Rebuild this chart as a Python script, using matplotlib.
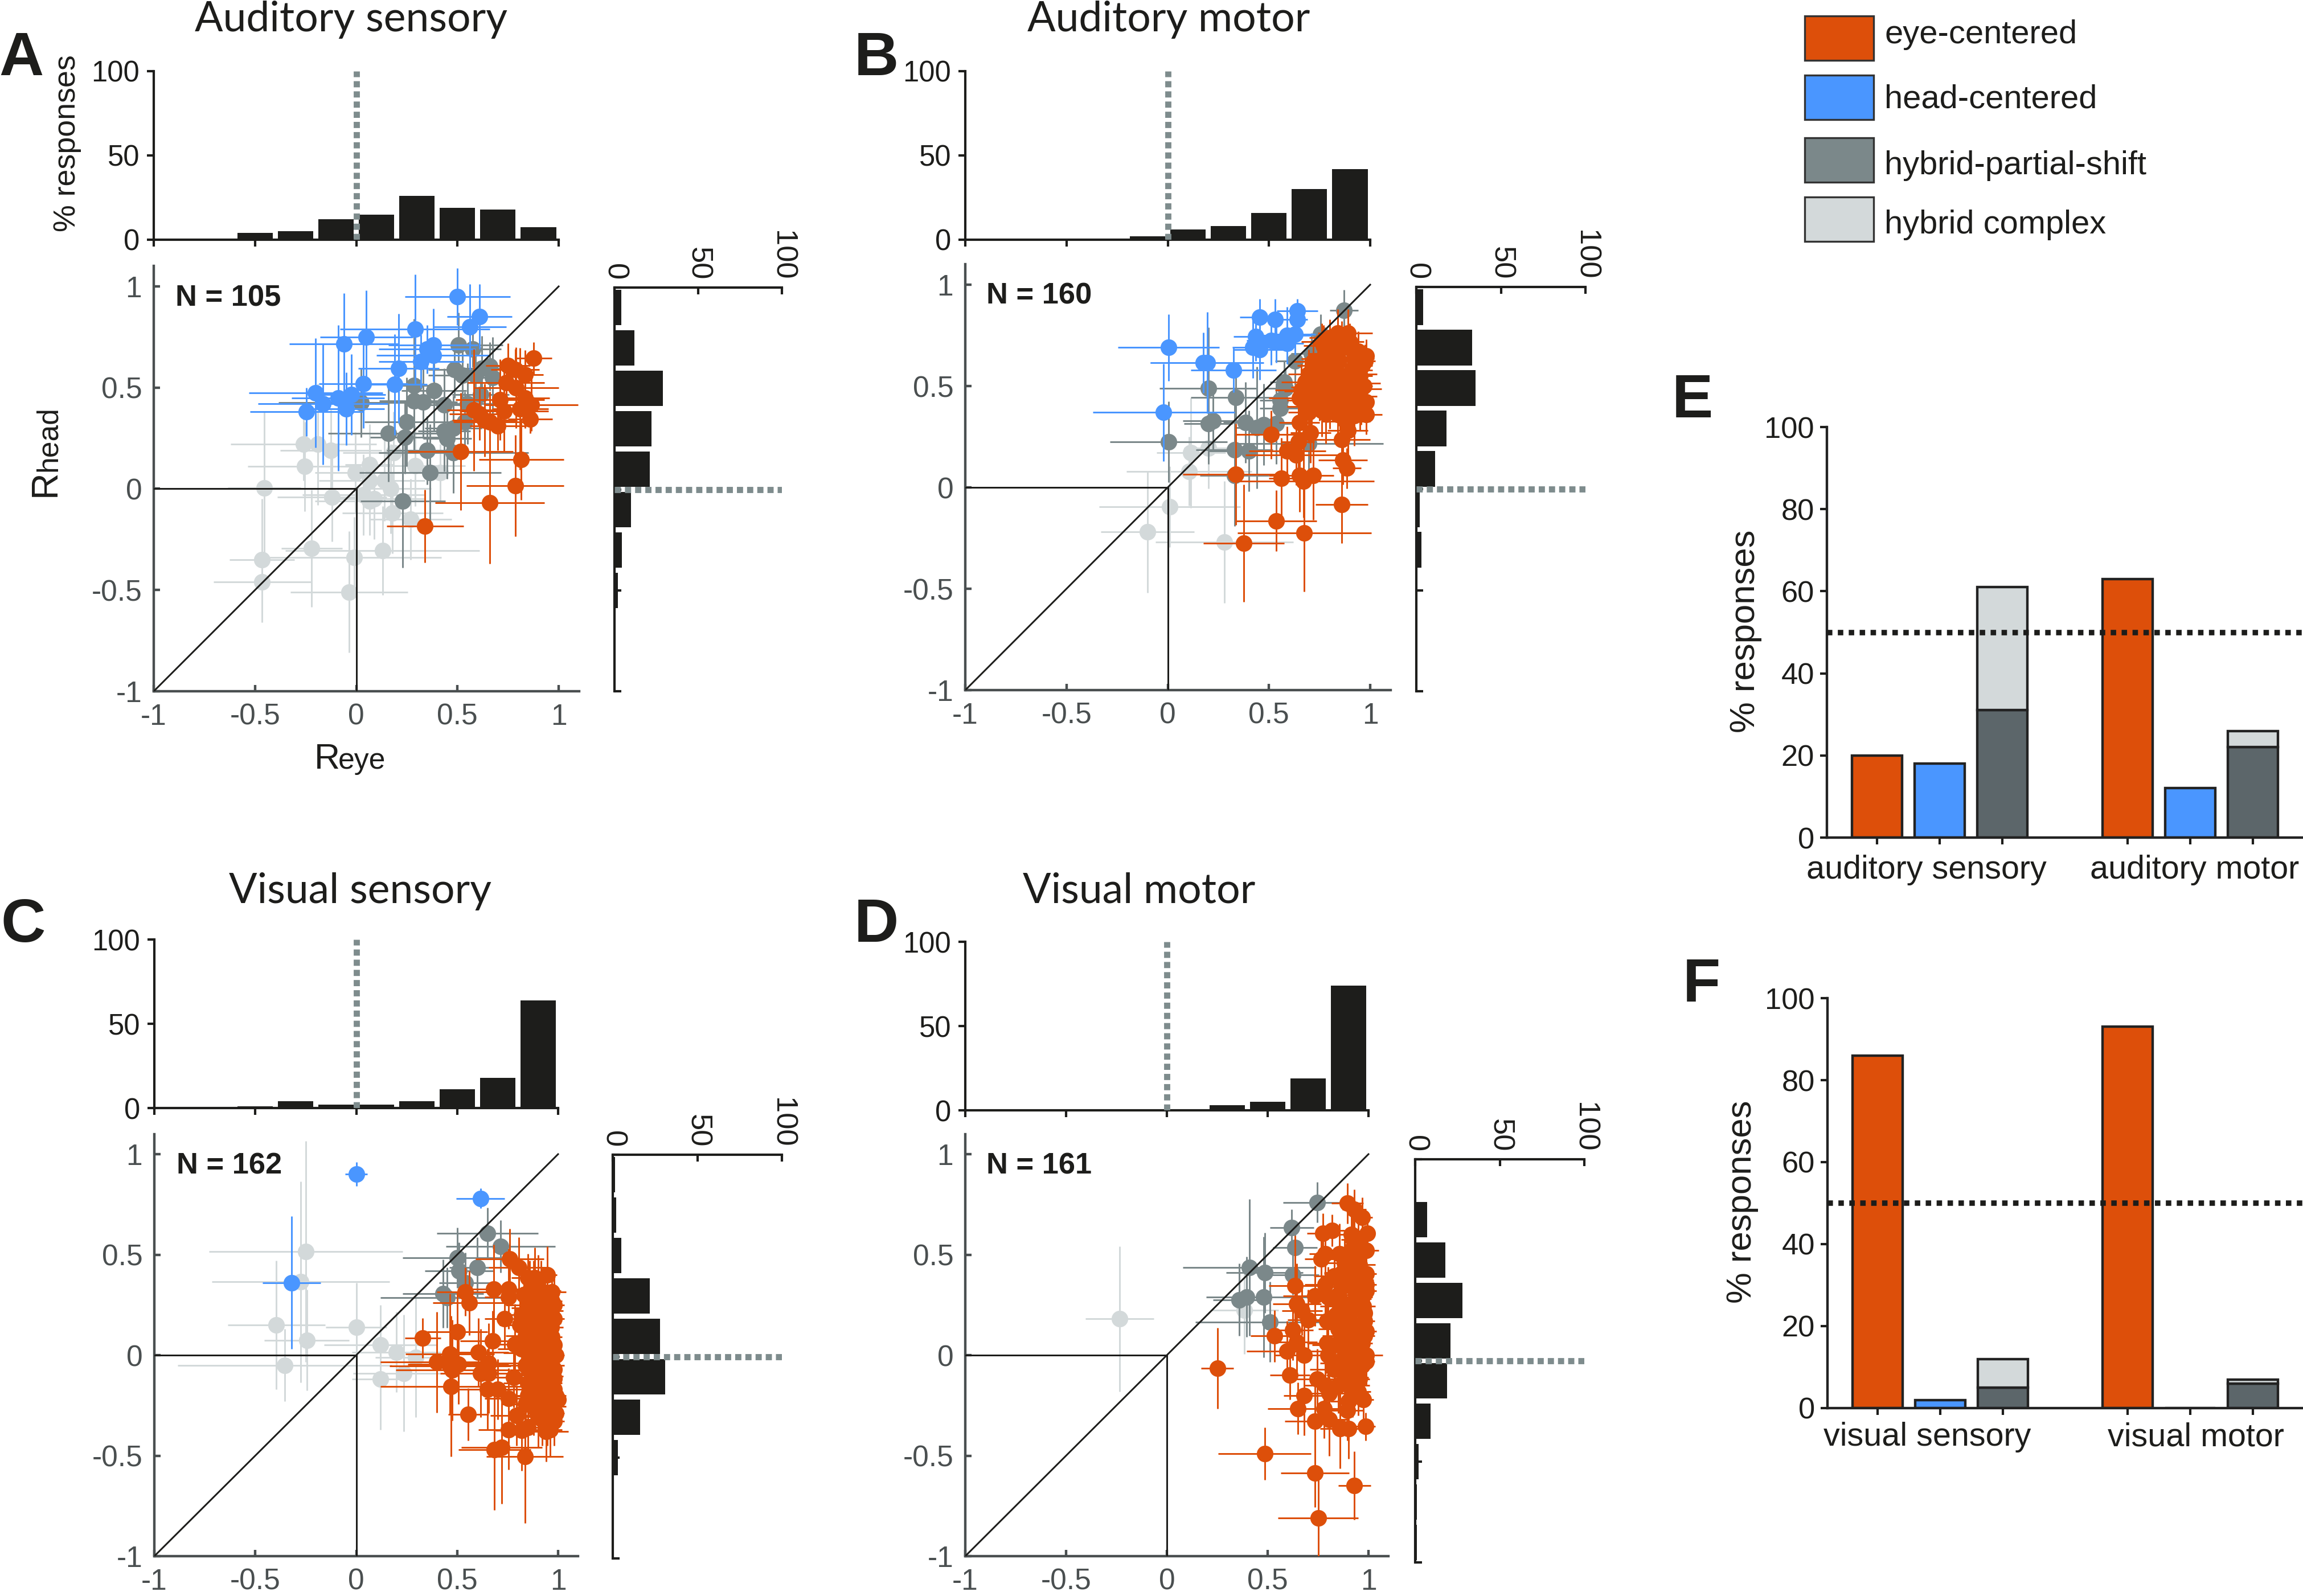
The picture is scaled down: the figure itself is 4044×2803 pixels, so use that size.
import matplotlib
matplotlib.use("Agg")
import matplotlib.pyplot as plt
from matplotlib.patches import Rectangle

plt.rcParams['font.family'] = ['Liberation Sans', 'DejaVu Sans']

W, H = 4044, 2803

# colours
ORANGE = '#DD4F0A'
BLUE = '#4A96FF'
GRAY = '#7B888A'
LIGHT = '#D3D9DA'
DARK = '#5C666A'
INK = '#1D1D1B'
AXC = '#4A4F50'
TXT = '#4A4F50'
DOT = '#7E8C8D'

# ---- panel A (auditory sensory) ----
A_head_x = [.50, .61, .56, .29, .05, -.06, .38, .35, .38, .32, .21, .035, .19, -.20, -.025, -.09, -.165, -.05, -.245]
A_head_y = [.95, .85, .80, .79, .75, .715, .71, .69, .66, .63, .595, .52, .515, .475, .465, .45, .42, .395, .38]
A_head_xe = [.26, .16, .18, .37, .23, .27, .22, .24, .28, .21, .20, .22, .16, .33, .17, .23, .32, .19, .28]
A_head_ye = [.14, .16, .21, .27, .23, .25, .18, .12, .12, .13, .27, .22, .25, .27, .20, .36, .30, .18, .12]

A_part_x = [.505, .575, .485, .66, .62, .525, .59, .675, .615, .285, .385, .285, .33, .025, .435, .55, .25, .16, .24, .435, .48, .45, .535, .35, .48, .365, .23]
A_part_y = [.71, .69, .59, .605, .595, .56, .56, .55, .465, .51, .485, .435, .43, .425, .415, .42, .33, .275, .255, .285, .30, .25, .33, .19, .18, .08, -.06]
A_part_xe = [.22, .14, .13, .07, .11, .17, .12, .10, .14, .13, .16, .17, .17, .41, .10, .16, .21, .30, .17, .13, .14, .12, .15, .20, .37, .35, .21]
A_part_ye = [.16, .09, .14, .12, .16, .15, .13, .20, .15, .33, .20, .15, .18, .17, .18, .20, .22, .24, .18, .20, .16, .20, .15, .17, .20, .24, .33]

A_comp_x = [-.26, -.19, -.125, -.255, -.455, -.005, .065, .185, .29, .415, .065, .14, .17, -.12, .035, .09, .065, .18, .27, -.22, .13, -.465, -.01, -.465, -.035]
A_comp_y = [.22, .22, .19, .11, .005, .08, .12, .18, .115, .08, .04, .04, 0, -.04, -.03, -.05, -.06, -.12, -.15, -.295, -.305, -.35, -.34, -.46, -.51]
A_comp_xe = [.36, .22, .25, .28, .18, .20, .12, .25, .25, .15, .25, .20, .20, .27, .30, .25, .27, .25, .20, .15, .48, .16, .43, .24, .29]
A_comp_ye = [.18, .30, .20, .22, .38, .20, .20, .20, .20, .14, .18, .20, .22, .22, .20, .20, .17, .20, .20, .29, .22, .30, .20, .20, .30]

A_eye_x = [.875, .75, .785, .835, .74, .79, .71, .835, .865, .81, .58, .61, .73, .635, .66, .86, .70, .515, .815, .785, .66, .34]
A_eye_y = [.645, .61, .59, .565, .525, .50, .44, .45, .415, .395, .39, .37, .385, .34, .33, .345, .31, .185, .145, .015, -.07, -.185]
A_eye_xe = [.09, .11, .12, .09, .19, .21, .22, .12, .23, .14, .13, .15, .22, .16, .18, .11, .14, .26, .21, .24, .27, .19]
A_eye_ye = [.08, .11, .10, .12, .12, .20, .20, .15, .13, .30, .30, .13, .20, .18, .15, .07, .12, .29, .20, .25, .30, .18]

# ---- panel B (auditory motor) ----
B_head_x = [.005, .175, .195, .325, -.02, .455, .53, .64, .64, .435, .42, .455, .51, .535, .59, .63, .59]
B_head_y = [.69, .615, .615, .58, .37, .84, .83, .87, .83, .745, .69, .68, .725, .715, .75, .755, .71]
B_head_xe = [.25, .26, .28, .21, .35, .10, .09, .10, .05, .11, .10, .13, .12, .08, .12, .10, .08]
B_head_ye = [.165, .15, .25, .11, .24, .09, .10, .06, .09, .12, .15, .15, .12, .10, .14, .10, .10]

B_part_x = [.87, .755, .71, .63, .575, .58, .555, .555, .20, .335, .225, .20, .385, .44, .475, .535, .005, .33, .40, .695, .33]
B_part_y = [.875, .755, .66, .625, .52, .49, .43, .39, .49, .445, .33, .315, .32, .295, .31, .315, .225, .185, .18, .215, .06]
B_part_xe = [.07, .10, .10, .10, .07, .10, .10, .10, .24, .22, .15, .12, .11, .10, .10, .10, .29, .19, .20, .37, .17]
B_part_ye = [.10, .10, .10, .12, .10, .10, .12, .10, .30, .13, .15, .20, .20, .30, .20, .20, .20, .25, .20, .15, .25]

B_comp_x = [.115, .20, .105, .01, -.10, .28]
B_comp_y = [.17, .195, .08, -.095, -.22, -.27]
B_comp_xe = [.17, .12, .31, .35, .23, .34]
B_comp_ye = [.27, .20, .17, .20, .30, .30]

B_eye_x = [.335, .375, .535, .675, .86, .51, .705, .645, .59, .635, .56, .65, .67, .72, .865, .885, .86, .89, .98, .955,
           .65, .695, .78, .87, .92, .65, .71, .79, .87, .935, .955, .71, .78, .85, .93, .695, .76, .835, .91, .935,
           .77, .845, .92, .975, .77, .845, .91, .84, .89, .795, .86, .74, .815, .91, .88, .695,
           .72, .75, .80, .85, .90, .95, .98, .74, .80, .88, .95, .96, .72, .78, .84, .90,
           .86, .80, .76, .94, .98, .68, .66, .70, .76, .84, .92, .97, .90, .82, .75, .87]
B_eye_y = [.065, -.275, -.165, -.225, -.085, .26, .27, .225, .18, .16, .045, .06, .03, .06, .135, .095, .235, .28, .36, .41,
           .32, .37, .365, .365, .355, .44, .43, .44, .44, .45, .485, .495, .505, .495, .515, .56, .58, .57, .58, .56,
           .635, .625, .635, .625, .70, .70, .68, .76, .76, .61, .53, .45, .465, .42, .325, .475,
           .52, .45, .40, .40, .40, .38, .42, .60, .55, .55, .55, .60, .62, .66, .66, .72,
           .72, .74, .72, .67, .65, .52, .48, .40, .38, .36, .40, .50, .47, .52, .52, .47]
B_eye_xe = [.26, .20, .20, .33, .13, .17, .10, .08, .19, .25, .06, .15, .35, .10, .12, .07, .14, .10, .08, .06,
            .10, .10, .10, .10, .10, .15, .12, .10, .12, .10, .10, .10, .10, .12, .12, .10, .10, .10, .10, .10,
            .11, .10, .10, .05, .10, .10, .08, .10, .12, .10, .10, .10, .10, .10, .12, .12,
            .10, .12, .10, .09, .08, .05, .04, .10, .09, .08, .06, .05, .10, .09, .09, .07,
            .08, .10, .10, .06, .04, .12, .13, .11, .10, .09, .07, .04, .08, .09, .10, .08]
B_eye_ye = [.25, .29, .15, .29, .19, .12, .15, .20, .12, .15, .20, .18, .18, .22, .12, .10, .15, .15, .10, .10,
            .15, .15, .15, .12, .15, .10, .12, .12, .12, .12, .10, .12, .12, .12, .10, .12, .12, .10, .10, .10,
            .12, .10, .10, .08, .10, .10, .10, .12, .12, .10, .10, .10, .10, .10, .10, .10,
            .10, .12, .11, .12, .10, .10, .09, .11, .10, .10, .09, .10, .11, .10, .10, .09,
            .10, .09, .09, .10, .08, .12, .13, .12, .13, .11, .10, .09, .10, .10, .11, .10]

# ---- panel C (visual sensory) ----
C_head_x = [0, .615, -.32]
C_head_y = [.90, .78, .36]
C_head_xe = [.055, .12, .145]
C_head_ye = [.06, .05, .33]

C_part_x = [.65, .715, .50, .51, .60, .54, .43, .45]
C_part_y = [.605, .54, .485, .42, .435, .36, .305, .285]
C_part_xe = [.25, .27, .27, .17, .14, .13, .20, .33]
C_part_ye = [.13, .13, .15, .14, .15, .15, .17, .15]

C_comp_x = [-.25, -.275, -.395, -.245, 0, -.355, .12, .20, .295, .12, .235]
C_comp_y = [.515, .365, .15, .075, .14, -.05, .05, .015, -.01, -.12, -.09]
C_comp_xe = [.48, .44, .24, .21, .15, .53, .28, .22, .20, .14, .25]
C_comp_ye = [.55, .50, .32, .25, .22, .18, .20, .20, .30, .25, .29]

C_eye_x = [.76, .805, .68, .54, .56, .755, .755, .735, .50, .33, .675, .40, .465, .605, .465, .505, .475, .655, .615, .655,
           .47, .65, .70, .78, .555, .755, .795, .90, .755, .82, .85, .94, .685, .72, .835,
           .945, .885, .85, .97, .86, .915, .98, .87, .935, .965, .81, .885, .945, .965, .785, .84, .905, .98, .85, .99,
           .93, .915, .97, .86, .945, .98, .85, .935, .98, .885, .96, .97, .99, .945, .84,
           .90, .92, .97, .90, .85, .93, .98, .88, .92, .86, .93, .97, .82, .88, .96, .90, .84, .95,
           .88, .92, .98, .90, .96, .85, .92, 1.0, .88, .93, .99, .92, .98, .96, .88, .83, .82, .88]
C_eye_y = [.48, .435, .33, .315, .26, .33, .29, .18, .115, .085, .07, -.035, .005, .015, -.055, -.045, -.075, -.04, -.09, -.09,
           -.155, -.17, -.17, -.11, -.295, -.215, -.30, -.305, -.37, -.375, -.36, -.38, -.47, -.46, -.505,
           .40, .385, .385, .315, .32, .32, .25, .235, .235, .22, .15, .18, .16, .14, .055, .095, .085, .05, .01, 0,
           .04, -.02, -.05, -.075, -.105, -.115, -.14, -.165, -.17, -.205, -.215, -.255, -.29, -.33, -.245,
           .37, .30, .27, .27, .25, .19, .18, .13, .13, .07, .08, .09, .03, .02, .01, -.03, -.05, -.02,
           -.10, -.09, -.07, -.15, -.14, -.20, -.20, -.22, -.26, -.27, -.20, -.32, -.33, -.37, .33, .30, .20, .19]
C_eye_xe = [.17, .15, .12, .14, .18, .10, .12, .10, .15, .09, .16, .28, .22, .15, .30, .25, .28, .15, .20, .14,
            .35, .20, .20, .12, .10, .12, .13, .10, .15, .13, .12, .11, .18, .20, .19,
            .05, .08, .08, .07, .10, .10, .05, .10, .07, .06, .10, .10, .07, .06, .10, .10, .10, .03, .12, .04,
            .08, .10, .06, .10, .08, .04, .12, .08, .04, .10, .06, .07, .04, .07, .12,
            .08, .08, .05, .08, .11, .07, .05, .09, .07, .10, .07, .05, .12, .09, .05, .09, .11, .05,
            .09, .07, .04, .09, .06, .11, .08, .03, .09, .07, .05, .08, .05, .06, .09, .11, .12, .10]
C_eye_ye = [.15, .15, .22, .12, .16, .20, .15, .15, .20, .10, .15, .25, .30, .17, .20, .20, .25, .20, .22, .20,
            .35, .20, .15, .15, .13, .15, .15, .15, .20, .20, .15, .15, .30, .28, .33,
            .14, .15, .12, .10, .15, .15, .15, .15, .12, .12, .15, .15, .12, .10, .20, .15, .15, .12, .20, .12,
            .12, .15, .12, .15, .15, .12, .15, .15, .10, .15, .15, .12, .10, .12, .15,
            .13, .12, .12, .13, .15, .12, .11, .13, .12, .14, .12, .11, .15, .13, .12, .13, .14, .12,
            .13, .12, .11, .13, .12, .14, .12, .10, .14, .12, .11, .13, .12, .13, .14, .13, .14, .13]

# ---- panel D (visual motor) ----
D_head_x, D_head_y, D_head_xe, D_head_ye = [], [], [], []

D_part_x = [.745, .62, .635, .41, .485, .625, .395, .36, .48, .51]
D_part_y = [.76, .635, .535, .435, .41, .40, .29, .275, .29, .165]
D_part_xe = [.17, .11, .11, .33, .19, .13, .20, .13, .23, .37]
D_part_ye = [.10, .09, .10, .34, .20, .10, .20, .18, .30, .20]

D_comp_x = [-.235, .385]
D_comp_y = [.18, .225]
D_comp_xe = [.17, .17]
D_comp_ye = [.36, .22]

D_eye_x = [.25, .485, .735, .93, .75, .895, .93, .97, .775, .82, .915, .995, .765, .785, .855, .955, .99, .635, .735, .645,
           .67, .70, .535, .625, .645, .595, .68, .61, .795, .80, .83, .745, .785, .805, .68, .65, .78, .895, .735, .805,
           .86, .90, .985, .975, .88, .83, .98, .785, .87, .99, .955, .99, .935, .99, .80, .86, .975, .795, .87, .98,
           .905, .99, .925, .87, .98, .90, .99, .99, .935, .88, .925, .955, .925, .895, .965, .915, .925,
           .88, .93, .97, .90, .85, .93, .97, .88, .93, .98, .84, .90, .95, .85, .92, .97,
           .83, .88, .95, .86, .93, .97, .88, .93, .85, .92, .90, .95, .87, .95, .90, .95]
D_eye_y = [-.065, -.49, -.585, -.65, -.81, .755, .725, .685, .605, .62, .60, .605, .48, .505, .505, .52, .52, .345, .295, .255,
           .22, .175, .095, .125, .065, .02, 0, -.10, .06, 0, -.07, -.12, -.15, -.19, -.20, -.265, -.265, -.275, -.33, -.32,
           -.365, -.365, -.355, -.22, .405, .395, .405, .35, .34, .35, .45, .405, .28, .32, .29, .245, .245, .17, .17, .17,
           .205, .12, .12, .095, .095, .03, 0, -.03, 0, 0, -.065, -.12, -.15, -.095, .375, .525, .575,
           .46, .44, .37, .36, .30, .33, .29, .25, .23, .21, .20, .15, .15, .13, .07, .06,
           .05, .05, .02, -.04, -.04, -.05, -.10, -.11, -.15, -.19, -.23, -.18, .41, .40, .50, .58]
D_eye_xe = [.08, .23, .17, .08, .20, .08, .06, .05, .08, .06, .08, .04, .08, .08, .08, .08, .06, .13, .16, .12,
            .10, .10, .12, .10, .10, .20, .15, .10, .10, .10, .12, .10, .10, .10, .10, .15, .10, .08, .15, .10,
            .10, .12, .05, .05, .10, .10, .05, .10, .10, .05, .08, .05, .08, .05, .10, .10, .06, .10, .10, .05,
            .08, .05, .08, .10, .05, .10, .08, .04, .08, .10, .08, .05, .08, .08, .06, .06, .06,
            .09, .07, .05, .09, .10, .07, .05, .09, .07, .04, .11, .09, .06, .10, .08, .05,
            .11, .09, .06, .10, .07, .05, .09, .07, .10, .08, .09, .06, .09, .06, .08, .05]
D_eye_ye = [.20, .13, .17, .17, .20, .10, .10, .10, .10, .08, .10, .10, .15, .10, .15, .10, .10, .25, .15, .20,
            .12, .15, .13, .15, .15, .15, .18, .12, .15, .15, .15, .15, .15, .15, .20, .13, .15, .15, .20, .18,
            .20, .15, .07, .10, .12, .12, .12, .15, .15, .12, .12, .10, .12, .10, .15, .15, .12, .15, .15, .12,
            .12, .12, .12, .15, .12, .15, .12, .12, .12, .15, .12, .12, .15, .15, .12, .10, .12,
            .12, .12, .11, .13, .13, .12, .11, .13, .12, .11, .13, .13, .12, .13, .12, .11,
            .14, .13, .12, .14, .12, .11, .14, .12, .14, .12, .13, .12, .13, .12, .12, .11]

# histograms, bins from -1 to 1
hist_centers = [-.9, -.7, -.5, -.3, -.1, .1, .3, .5, .7, .9]
A_top = [.5, .5, 4, 5, 12, 15, 26, 19, 18, 7.5]
B_top = [.5, .5, .5, .5, 2, 6, 8, 16, 30, 42]
C_top = [.5, .5, 1, 4, 2, 2, 4, 11, 18, 64]
D_top = [.5, .5, .5, .8, .5, .5, 3, 5, 19, 74]
A_side = [.5, .5, 2, 4.5, 10, 21, 22, 29, 12, 4]
B_side = [.5, .5, .5, 3, 2, 11, 18, 35, 33, 4]
C_side = [.5, .5, 3, 16, 31, 28, 22, 5, 2, 1.5]
D_side = [1, 1, 2, 9, 19, 21, 28, 18, 7, .5]

# stacked bars
bar_x = [1, 2, 3, 5, 6, 7]
E_vals = {'eye': [20, 63], 'head': [18, 12], 'partial': [31, 22], 'complex': [30, 4]}
F_vals = {'eye': [86, 93], 'head': [2, 0], 'partial': [5, 6], 'complex': [7, 1]}

legend_labels = ['eye-centered', 'head-centered', 'hybrid-partial-shift', 'hybrid complex']
legend_colors = [ORANGE, BLUE, GRAY, LIGHT]

fig = plt.figure(figsize=(W / 300, H / 300), dpi=300)


def px_axes(left, right, top, bottom):
    return fig.add_axes([left / W, 1 - bottom / H, (right - left) / W, (bottom - top) / H])


def px_text(x, y, s, **kw):
    return fig.text(x / W, 1 - y / H, s, **kw)


def scatter_panel(box, series, label_n):
    x0, x1, y1, y0 = box['main']
    ux = (x1 - x0) / 2
    uy = (y0 - y1) / 2
    ax = px_axes(x0, x0 + 2.1 * ux, y0 - 2.1 * uy, y0)
    ax.set_xlim(-1, 1.1)
    ax.set_ylim(-1, 1.1)
    for (x, y, xe, ye), col, z in series:
        if len(x):
            ax.errorbar(x, y, xerr=xe, yerr=ye, fmt='o', ms=7.0, color=col, mew=0,
                        elinewidth=.72, capsize=0, zorder=z)
    ax.plot([-1, 1], [-1, 1], color=INK, lw=.72, zorder=6)
    ax.plot([-1, 0], [0, 0], color=INK, lw=.72, zorder=6)
    ax.plot([0, 0], [-1, 0], color=INK, lw=.72, zorder=6)
    for s in ['top', 'right']:
        ax.spines[s].set_visible(False)
    for s in ['left', 'bottom']:
        ax.spines[s].set_color(AXC)
        ax.spines[s].set_linewidth(1.05)
    ticks = [-1, -.5, 0, .5, 1]
    names = ['-1', '-0.5', '0', '0.5', '1']
    ax.set_xticks(ticks, names)
    ax.set_yticks(ticks, names)
    ax.tick_params(direction='in', length=2.6, width=1.05, color=AXC, labelcolor=TXT, labelsize=12.4, pad=5)
    ax.patch.set_alpha(0)

    # histogram on top
    h0, h100 = box['top']
    top = px_axes(x0, x1, h100, h0)
    top.bar(box['hist_c'], box['top_v'], width=.175, color=INK, zorder=2)
    top.plot([0, 0], [0, 100], color=DOT, lw=2.6, ls=(0, (1, .65)), zorder=3)
    top.set_xlim(-1, 1)
    top.set_ylim(0, 100)
    top.set_xticks(ticks, [])
    top.set_yticks([0, 50, 100])
    top.tick_params(length=2.8, width=1, color=INK, labelcolor=INK, labelsize=12.2, pad=3.2)
    for s in ['top', 'right']:
        top.spines[s].set_visible(False)
    for s in ['left', 'bottom']:
        top.spines[s].set_color(INK)
        top.spines[s].set_linewidth(1)
    top.patch.set_alpha(0)

    # histogram on the side
    sx0, sx100, sy1, sy0 = box['side']
    side = px_axes(sx0, sx100, sy1, sy0)
    side.barh(box['hist_c'], box['side_v'], height=.175, color=INK, zorder=2)
    side.plot([0, 100], [0, 0], color=DOT, lw=2.6, ls=(0, (1, .65)), zorder=3)
    side.set_xlim(0, 100)
    side.set_ylim(-1, 1)
    side.xaxis.tick_top()
    side.set_xticks([0, 50, 100])
    side.set_yticks(ticks, [])
    side.tick_params(direction='in', length=2.8, width=1, color=INK, labelcolor=INK, labelsize=12.6, pad=3)
    plt.setp(side.get_xticklabels(), rotation=-90, ha='center', va='bottom')
    for s in ['bottom', 'right']:
        side.spines[s].set_visible(False)
    for s in ['left', 'top']:
        side.spines[s].set_color(INK)
        side.spines[s].set_linewidth(1)
    side.patch.set_alpha(0)

    px_text(box['n'][0], box['n'][1], label_n, fontsize=12.6, fontweight='bold', color=INK, va='baseline')


def bar_panel(box, vals, names, name_x, name_y, ylabel_pos):
    ax = px_axes(box[0], box[1], box[2], box[3])
    eye = vals['eye']
    head = vals['head']
    part = vals['partial']
    comp = vals['complex']
    edge = dict(edgecolor='#222222', linewidth=1.05, width=.8)
    ax.bar(bar_x[0], eye[0], color=ORANGE, **edge)
    ax.bar(bar_x[3], eye[1], color=ORANGE, **edge)
    ax.bar(bar_x[1], head[0], color=BLUE, **edge)
    ax.bar(bar_x[4], head[1], color=BLUE, **edge)
    ax.bar(bar_x[2], part[0], color=DARK, **edge)
    ax.bar(bar_x[2], comp[0], bottom=part[0], color=LIGHT, **edge)
    ax.bar(bar_x[5], part[1], color=DARK, **edge)
    ax.bar(bar_x[5], comp[1], bottom=part[1], color=LIGHT, **edge)
    ax.axhline(50, color=INK, lw=2.3, ls=(0, (1, 1)), zorder=5)
    ax.set_xlim(.2, 7.8)
    ax.set_ylim(0, 100)
    ax.set_yticks([0, 20, 40, 60, 80, 100])
    ax.set_xticks(bar_x, [])
    ax.tick_params(length=2.8, width=1, color=INK, labelcolor=INK, labelsize=12.6, pad=2.5)
    for s in ['top', 'right']:
        ax.spines[s].set_visible(False)
    for s in ['left', 'bottom']:
        ax.spines[s].set_color('#222222')
        ax.spines[s].set_linewidth(1.05)
    for name, nx in zip(names, name_x):
        px_text(nx, name_y, name, fontsize=13.8, color=INK, ha='center', va='baseline')
    px_text(ylabel_pos[0], ylabel_pos[1], '% responses', fontsize=14.8, color=INK, rotation=90,
            ha='center', va='center')


panel_A = dict(main=(270, 981, 503, 1214), top=(421, 125), side=(1079, 1373, 505, 1214), n=(308, 538),
               hist_c=hist_centers, top_v=A_top, side_v=A_side)
panel_B = dict(main=(1695, 2406, 500, 1212), top=(421, 125), side=(2487, 2784, 504, 1214), n=(1732, 534),
               hist_c=hist_centers, top_v=B_top, side_v=B_side)
panel_C = dict(main=(271, 980, 2027, 2733), top=(1946, 1650), side=(1076, 1373, 2028, 2737), n=(310, 2061),
               hist_c=hist_centers, top_v=C_top, side_v=C_side)
panel_D = dict(main=(1695, 2403, 2027, 2733), top=(1950, 1654), side=(2485, 2782, 2036, 2744), n=(1732, 2061),
               hist_c=hist_centers, top_v=D_top, side_v=D_side)

scatter_panel(panel_A, [((A_comp_x, A_comp_y, A_comp_xe, A_comp_ye), LIGHT, 2),
                        ((A_part_x, A_part_y, A_part_xe, A_part_ye), GRAY, 3),
                        ((A_head_x, A_head_y, A_head_xe, A_head_ye), BLUE, 4),
                        ((A_eye_x, A_eye_y, A_eye_xe, A_eye_ye), ORANGE, 5)], 'N = 105')
scatter_panel(panel_B, [((B_comp_x, B_comp_y, B_comp_xe, B_comp_ye), LIGHT, 2),
                        ((B_part_x, B_part_y, B_part_xe, B_part_ye), GRAY, 3),
                        ((B_head_x, B_head_y, B_head_xe, B_head_ye), BLUE, 4),
                        ((B_eye_x, B_eye_y, B_eye_xe, B_eye_ye), ORANGE, 5)], 'N = 160')
scatter_panel(panel_C, [((C_comp_x, C_comp_y, C_comp_xe, C_comp_ye), LIGHT, 2),
                        ((C_part_x, C_part_y, C_part_xe, C_part_ye), GRAY, 3),
                        ((C_head_x, C_head_y, C_head_xe, C_head_ye), BLUE, 4),
                        ((C_eye_x, C_eye_y, C_eye_xe, C_eye_ye), ORANGE, 5)], 'N = 162')
scatter_panel(panel_D, [((D_comp_x, D_comp_y, D_comp_xe, D_comp_ye), LIGHT, 2),
                        ((D_part_x, D_part_y, D_part_xe, D_part_ye), GRAY, 3),
                        ((D_head_x, D_head_y, D_head_xe, D_head_ye), BLUE, 4),
                        ((D_eye_x, D_eye_y, D_eye_xe, D_eye_ye), ORANGE, 5)], 'N = 161')

bar_panel((3208, 4044, 750, 1471), E_vals, ['auditory sensory', 'auditory motor'], [3383, 3854], 1543, (3065, 1109))
bar_panel((3209, 4044, 1753, 2473), F_vals, ['visual sensory', 'visual motor'], [3384, 3856], 2539, (3060, 2111))

# titles
for tx, ty, t in [(616, 55, 'Auditory sensory'), (2052, 55, 'Auditory motor'),
                  (632, 1586, 'Visual sensory'), (2000, 1586, 'Visual motor')]:
    px_text(tx, ty, t, family=['Lato', 'DejaVu Sans'], fontsize=17.6, color=INK, ha='center', va='baseline')

# panel letters
for lx, ly, t in [(-2, 132, 'A'), (1500, 132, 'B'), (2, 1654, 'C'), (1500, 1654, 'D'), (2936, 733, 'E'), (2955, 1759, 'F')]:
    px_text(lx, ly, t, fontsize=26, fontweight='bold', color=INK, ha='left', va='baseline')

# axis names of panel A
px_text(118, 252, '% responses', fontsize=12.9, color=INK, rotation=90, ha='center', va='center')
px_text(552, 1350, 'R', fontsize=15, color=INK, va='baseline')
px_text(594, 1350, 'eye', fontsize=12.4, color=INK, va='baseline')
px_text(110, 872, 'R', fontsize=15.5, color=INK, rotation=90, ha='left', va='bottom', rotation_mode='anchor')
px_text(110, 828, 'head', fontsize=12.4, color=INK, rotation=90, ha='left', va='bottom', rotation_mode='anchor')

# legend
legend_y = [28, 132, 242, 346]
legend_base = [76, 190, 306, 410]
for yy, bb, lab, col in zip(legend_y, legend_base, legend_labels, legend_colors):
    fig.add_artist(Rectangle((3169 / W, 1 - (yy + 78) / H), 121 / W, 78 / H, transform=fig.transFigure,
                             facecolor=col, edgecolor='#333333', linewidth=.8))
    px_text(3309, bb, lab, fontsize=13.9, color=INK, va='baseline')

fig.savefig('out.png', dpi=300)
plt.close(fig)
